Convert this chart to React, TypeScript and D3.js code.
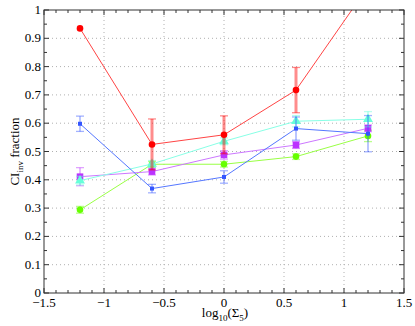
import React, { useEffect, useRef } from 'react';
import * as d3 from 'd3';

// x positions (log10 of Sigma_5)
const xValues = [-1.2, -0.6, 0, 0.6, 1.2];

const redValues = [0.935, 0.525, 0.559, 0.717, 1.082];
const redErrors = [0, 0.09, 0.067, 0.08, 0];
const blueValues = [0.598, 0.369, 0.41, 0.581, 0.563];
const blueErrors = [0.027, 0.015, 0.022, 0.041, 0.064];
const cyanValues = [0.397, 0.456, 0.536, 0.607, 0.614];
const cyanErrors = [0.015, 0.012, 0.012, 0.02, 0.027];
const magentaValues = [0.411, 0.429, 0.488, 0.523, 0.582];
const magentaErrors = [0.032, 0.012, 0.015, 0.012, 0.012];
const greenValues = [0.294, 0.455, 0.455, 0.482, 0.555];
const greenErrors = [0.012, 0.01, 0.01, 0.01, 0.02];

const xTicks = [-1.5, -1, -0.5, 0, 0.5, 1, 1.5];
const yTicks = [0, 0.1, 0.2, 0.3, 0.4, 0.5, 0.6, 0.7, 0.8, 0.9, 1];

const series = [
    { name: 'green', values: greenValues, errors: greenErrors, color: '#66ff00', line: '#99ff44', shape: 'circle' },
    { name: 'magenta', values: magentaValues, errors: magentaErrors, color: '#bb33ff', line: '#cc77ff', shape: 'square' },
    { name: 'cyan', values: cyanValues, errors: cyanErrors, color: '#66ffd9', line: '#88ffe6', shape: 'triangle' },
    { name: 'blue', values: blueValues, errors: blueErrors, color: '#3355ff', line: '#5577ff', shape: 'smallsquare' },
    { name: 'red', values: redValues, errors: redErrors, color: '#ff0000', line: '#ff4444', shape: 'circle' },
];

const App = () => {
    const svgRef = useRef<SVGSVGElement>(null);

    useEffect(() => {
        const svg = d3.select(svgRef.current);
        svg.selectAll('*').remove();

        const margin = { top: 10, right: 11, bottom: 33, left: 44 };
        const width = 415;
        const height = 326;

        const x = d3.scaleLinear().domain([-1.5, 1.5]).range([margin.left, width - margin.right]);
        const y = d3.scaleLinear().domain([0, 1]).range([height - margin.bottom, margin.top]);

        const font = "'Liberation Serif', Tinos, 'Times New Roman', Times, 'DejaVu Serif', serif";

        svg.append('defs').append('clipPath').attr('id', 'plot-clip')
            .append('rect')
            .attr('x', x(-1.5))
            .attr('y', y(1))
            .attr('width', x(1.5) - x(-1.5))
            .attr('height', y(0) - y(1));

        // grid
        const grid = svg.append('g');
        grid.selectAll('.vgrid')
            .data(xTicks.slice(1, -1))
            .join('line')
            .attr('x1', d => x(d)).attr('x2', d => x(d))
            .attr('y1', y(0)).attr('y2', y(1))
            .attr('stroke', '#b0b0b0')
            .attr('stroke-width', 1)
            .attr('stroke-dasharray', '1,3');
        grid.selectAll('.hgrid')
            .data(yTicks.slice(1, -1))
            .join('line')
            .attr('x1', x(-1.5)).attr('x2', x(1.5))
            .attr('y1', d => y(d)).attr('y2', d => y(d))
            .attr('stroke', '#b0b0b0')
            .attr('stroke-width', 1)
            .attr('stroke-dasharray', '1,3');

        // data
        const plot = svg.append('g').attr('clip-path', 'url(#plot-clip)');
        const line = d3.line<number>()
            .x((d, i) => x(xValues[i]))
            .y(d => y(d));

        series.forEach(s => {
            const g = plot.append('g');
            // error bars
            s.values.forEach((v, i) => {
                const e = s.errors[i];
                if (e <= 0) return;
                const cx = x(xValues[i]);
                const eg = g.append('g').attr('stroke', s.color).attr('stroke-opacity', 0.45).attr('stroke-width', 1.3);
                eg.append('line').attr('x1', cx).attr('x2', cx).attr('y1', y(v - e)).attr('y2', y(v + e))
                    .attr('stroke-width', s.name === 'red' ? 3 : 1.5);
                eg.append('line').attr('x1', cx - 4).attr('x2', cx + 4).attr('y1', y(v - e)).attr('y2', y(v - e));
                eg.append('line').attr('x1', cx - 4).attr('x2', cx + 4).attr('y1', y(v + e)).attr('y2', y(v + e));
            });
            g.append('path')
                .datum(s.values)
                .attr('d', line)
                .attr('fill', 'none')
                .attr('stroke', s.line)
                .attr('stroke-width', 1);

            s.values.forEach((v, i) => {
                const cx = x(xValues[i]);
                const cy = y(v);
                if (s.shape === 'circle') {
                    g.append('circle').attr('cx', cx).attr('cy', cy).attr('r', 3.3).attr('fill', s.color);
                } else if (s.shape === 'square') {
                    g.append('rect').attr('x', cx - 3.3).attr('y', cy - 3.3).attr('width', 6.6).attr('height', 6.6).attr('fill', s.color);
                } else if (s.shape === 'smallsquare') {
                    g.append('rect').attr('x', cx - 2).attr('y', cy - 2).attr('width', 4).attr('height', 4).attr('fill', s.color);
                } else {
                    const tri = d3.symbol().type(d3.symbolTriangle).size(42);
                    g.append('path').attr('d', tri()).attr('transform', `translate(${cx},${cy})`).attr('fill', s.color);
                }
            });
        });

        // frame and ticks
        const frame = svg.append('g').attr('stroke', '#333').attr('stroke-width', 1);
        frame.append('rect')
            .attr('x', x(-1.5)).attr('y', y(1))
            .attr('width', x(1.5) - x(-1.5)).attr('height', y(0) - y(1))
            .attr('fill', 'none');

        const xMinor = d3.range(-15, 16).map(d => d / 10);
        frame.selectAll('.xt')
            .data(xMinor)
            .join('g')
            .each(function (d) {
                const major = Math.abs(d * 2 - Math.round(d * 2)) < 1e-6;
                const len = major ? 5 : 3;
                const gg = d3.select(this);
                gg.append('line').attr('x1', x(d)).attr('x2', x(d)).attr('y1', y(0)).attr('y2', y(0) - len);
                gg.append('line').attr('x1', x(d)).attr('x2', x(d)).attr('y1', y(1)).attr('y2', y(1) + len);
            });
        const yMinor = d3.range(0, 21).map(d => d / 20);
        frame.selectAll('.yt')
            .data(yMinor)
            .join('g')
            .each(function (d, i) {
                const len = i % 2 === 0 ? 5 : 3;
                const gg = d3.select(this);
                gg.append('line').attr('x1', x(-1.5)).attr('x2', x(-1.5) + len).attr('y1', y(d)).attr('y2', y(d));
                gg.append('line').attr('x1', x(1.5)).attr('x2', x(1.5) - len).attr('y1', y(d)).attr('y2', y(d));
            });

        // tick labels
        const fmt = (d: number) => (d < 0 ? '\u2212' + Math.abs(d) : String(d));
        svg.append('g').selectAll('text')
            .data(xTicks)
            .join('text')
            .attr('x', d => x(d))
            .attr('y', y(0) + 14)
            .attr('text-anchor', 'middle')
            .style('font-family', font)
            .attr('font-size', 13)
            .attr('fill', '#000')
            .text(d => fmt(d));
        svg.append('g').selectAll('text')
            .data(yTicks)
            .join('text')
            .attr('x', x(-1.5) - 3)
            .attr('y', d => y(d) + 4)
            .attr('text-anchor', 'end')
            .style('font-family', font)
            .attr('font-size', 13)
            .attr('fill', '#000')
            .text(d => String(d));

        // axis labels
        const xl = svg.append('text')
            .attr('x', 225)
            .attr('y', 317)
            .attr('text-anchor', 'middle')
            .style('font-family', font)
            .attr('font-size', 13)
            .attr('fill', '#000');
        xl.append('tspan').text('log');
        xl.append('tspan').attr('font-size', 9).attr('dy', 4).text('10');
        xl.append('tspan').attr('dy', -4).text('(\u03A3');
        xl.append('tspan').attr('font-size', 9).attr('dy', 4).text('5');
        xl.append('tspan').attr('dy', -4).text(')');

        const yl = svg.append('text')
            .attr('transform', `translate(19,${y(0.5)}) rotate(-90)`)
            .attr('text-anchor', 'middle')
            .style('font-family', font)
            .attr('font-size', 13)
            .attr('fill', '#000');
        yl.append('tspan').text('CI');
        yl.append('tspan').attr('font-size', 9).attr('dy', 4).text('inv');
        yl.append('tspan').attr('dy', -4).text(' fraction');
    }, []);

    return (
        <svg ref={svgRef} width={415} height={326} style={{ position: 'absolute', left: 0, top: 0, background: '#fff' }} />
    );
};

export default App;
